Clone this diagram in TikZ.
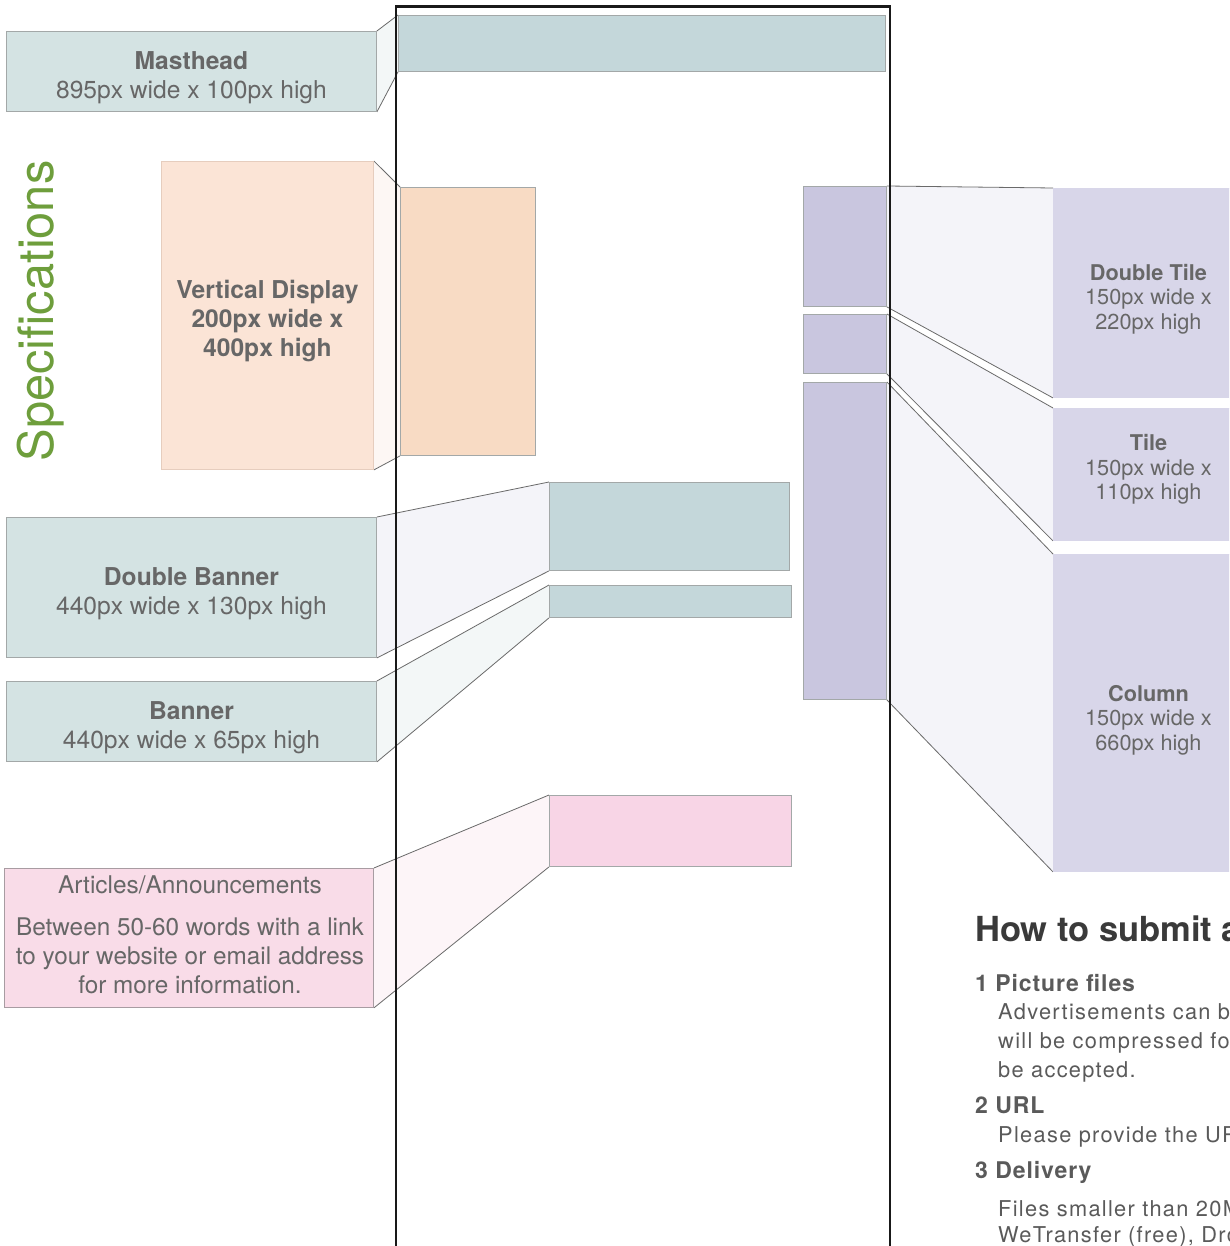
\documentclass[tikz,border=0pt]{standalone}
\usepackage{fontspec}
\setmainfont{TeX Gyre Heros}
\usetikzlibrary{backgrounds}
\definecolor{txt}{HTML}{676767}
\definecolor{boxline}{HTML}{A3A8A8}
\definecolor{cline}{HTML}{6A6A6A}
\definecolor{tealL}{HTML}{D4E3E3}
\definecolor{tealT}{HTML}{C4D7DA}
\definecolor{tealC}{HTML}{F3F7F7}
\definecolor{peachL}{HTML}{FBE4D6}
\definecolor{peachLine}{HTML}{E6CDBE}
\definecolor{peachT}{HTML}{F8DBC4}
\definecolor{peachC}{HTML}{FDF7F4}
\definecolor{lavL}{HTML}{D8D6E9}
\definecolor{lavT}{HTML}{C9C6DF}
\definecolor{lavC}{HTML}{F4F4F9}
\definecolor{pinkL}{HTML}{F9DCE8}
\definecolor{pinkLine}{HTML}{A89CA2}
\definecolor{pinkT}{HTML}{F8D5E6}
\definecolor{pinkC}{HTML}{FDF5F8}
\definecolor{specgreen}{HTML}{6E9E3C}
\definecolor{headtxt}{HTML}{3A3A3A}
\definecolor{itemtxt}{HTML}{5A5A5A}
\tikzset{
  boxbase/.style={draw=boxline, line width=0.9pt, inner sep=0pt, anchor=north west},
  labtext/.style={inner sep=0pt, align=center, text=txt, font=\fontsize{24.6}{29}\selectfont},
  rlabtext/.style={inner sep=0pt, align=center, text=txt, font=\fontsize{21.7}{24.5}\selectfont},
  connline/.style={draw=cline, line width=0.8pt},
  frameline/.style={draw=black!90, line width=2.7pt},
  heading/.style={anchor=base west, inner sep=0pt, text=headtxt, font=\fontsize{34.5}{40}\selectfont\bfseries},
  itemhead/.style={anchor=base west, inner sep=0pt, text=itemtxt, font=\fontsize{23}{29}\selectfont\bfseries\addfontfeatures{LetterSpace=4}},
  itemtext/.style={anchor=base west, inner sep=0pt, text=itemtxt, font=\fontsize{21.8}{29}\selectfont\addfontfeatures{LetterSpace=6}}
}
\begin{document}
\begin{tikzpicture}[x=1pt,y=-1pt]
\useasboundingbox (0,0) rectangle (1229,1246);
\clip (0,0) rectangle (1229,1246);

% ---------- left labels ----------
\node[boxbase, fill=tealL, minimum width=370pt, minimum height=80pt] (mhL) at (6,31) {};
\node[labtext] (mhLt) at ([yshift=-6pt]mhL.center) {\textbf{Masthead}\\895px wide x 100px high};
\node[boxbase, fill=peachL, draw=peachLine, minimum width=212pt, minimum height=308pt] (vdL) at (161,161) {};
\node[labtext] (vdLt) at ([yshift=-6pt]vdL.center) {\bfseries Vertical Display\\\bfseries 200px wide x\\\bfseries 400px high};
\node[boxbase, fill=tealL, minimum width=370pt, minimum height=140pt] (dbL) at (6,517) {};
\node[labtext] (dbLt) at ([yshift=-6pt]dbL.center) {\textbf{Double Banner}\\440px wide x 130px high};
\node[boxbase, fill=tealL, minimum width=370pt, minimum height=80pt] (bnL) at (6,681) {};
\node[labtext] (bnLt) at ([yshift=-6pt]bnL.center) {\textbf{Banner}\\440px wide x 65px high};
\node[boxbase, fill=pinkL, draw=pinkLine, minimum width=369pt, minimum height=139pt] (arL) at (4,868) {};
\node[anchor=base, inner sep=0pt, text=txt, font=\fontsize{24.4}{29}\selectfont] (arT1) at (190,893) {Articles/Announcements};
\node[anchor=north, inner sep=0pt, text=txt, align=center, font=\fontsize{24.3}{28.6}\selectfont] (arT2) at (190,918)
  {Between 50-60 words with a link\\to your website or email address\\for more information.};

% ---------- targets in the page ----------
\node[boxbase, fill=tealT, minimum width=487pt, minimum height=56pt] (mhT) at (398,15) {};
\node[boxbase, fill=peachT, minimum width=135pt, minimum height=268pt] (vdT) at (400,187) {};
\node[boxbase, fill=tealT, minimum width=240pt, minimum height=88pt] (dbT) at (549,482) {};
\node[boxbase, fill=tealT, minimum width=242pt, minimum height=32pt] (bnT) at (549,585) {};
\node[boxbase, fill=pinkT, minimum width=242pt, minimum height=71pt] (arT) at (549,795) {};
\node[boxbase, fill=lavT, minimum width=83pt, minimum height=120pt] (dtT) at (803,186) {};
\node[boxbase, fill=lavT, minimum width=83pt, minimum height=59pt] (tiT) at (803,314) {};
\node[boxbase, fill=lavT, minimum width=83pt, minimum height=317pt] (coT) at (803,382) {};

% ---------- right labels ----------
\node[boxbase, fill=lavL, draw=lavL, minimum width=190pt, minimum height=209pt] (dtL) at (1053,188) {};
\node[rlabtext] (dtLt) at ([yshift=-6pt]dtL.center) {\textbf{Double Tile}\\150px wide x\\220px high};
\node[boxbase, fill=lavL, draw=lavL, minimum width=190pt, minimum height=132pt] (tiL) at (1053,408) {};
\node[rlabtext] (tiLt) at ([yshift=5pt]tiL.center) {\textbf{Tile}\\150px wide x\\110px high};
\node[boxbase, fill=lavL, draw=lavL, minimum width=190pt, minimum height=317pt] (coL) at (1053,554) {};
\node[rlabtext] (coLt) at ([yshift=-7pt]coL.center) {\textbf{Column}\\150px wide x\\660px high};

% ---------- connectors ----------
\begin{pgfonlayer}{background}
\fill[white] (0,0) rectangle (1229,1246);
\fill[tealC] (mhL.north east) -- (mhT.north west) -- (mhT.south west) -- (mhL.south east) -- cycle;
\draw[connline] (mhL.north east) -- (mhT.north west);
\draw[connline] (mhL.south east) -- (mhT.south west);

\fill[peachC] (vdL.north east) -- (vdT.north west) -- (vdT.south west) -- (vdL.south east) -- cycle;
\draw[connline] (vdL.north east) -- (vdT.north west);
\draw[connline] (vdL.south east) -- (vdT.south west);

\fill[lavC] (dbL.north east) -- (dbT.north west) -- (dbT.south west) -- (dbL.south east) -- cycle;
\draw[connline] (dbL.north east) -- (dbT.north west);
\draw[connline] (dbL.south east) -- (dbT.south west);

\fill[tealC] (bnL.north east) -- (bnT.north west) -- (bnT.south west) -- (bnL.south east) -- cycle;
\draw[connline] (bnL.north east) -- (bnT.north west);
\draw[connline] (bnL.south east) -- (bnT.south west);

\fill[pinkC] (arL.north east) -- (arT.north west) -- (arT.south west) -- (arL.south east) -- cycle;
\draw[connline] (arL.north east) -- (arT.north west);
\draw[connline] (arL.south east) -- (arT.south west);

\fill[lavC] (dtT.north east) -- (dtL.north west) -- (dtL.south west) -- (dtT.south east) -- cycle;
\draw[connline] (dtT.north east) -- (dtL.north west);
\draw[connline] (dtT.south east) -- (dtL.south west);

\fill[lavC] (tiT.north east) -- (tiL.north west) -- (tiL.south west) -- (tiT.south east) -- cycle;
\draw[connline] (tiT.north east) -- (tiL.north west);
\draw[connline] (tiT.south east) -- (tiL.south west);

\fill[lavC] (coT.north east) -- (coL.north west) -- (coL.south west) -- (coT.south east) -- cycle;
\draw[connline] (coT.north east) -- (coL.north west);
\draw[connline] (coT.south east) -- (coL.south west);
\end{pgfonlayer}

% ---------- page frame ----------
\coordinate (fBL) at (396,1260);
\coordinate (fTL) at (396,6.5);
\coordinate (fTR) at (890,6.5);
\coordinate (fBR) at (890,1260);
\draw[frameline] (fBL) -- (fTL) -- (fTR) -- (fBR);

% ---------- Specifications ----------
\node[rotate=90, anchor=base, inner sep=0pt, text=specgreen, font=\fontsize{48.8}{52}\selectfont] (spec) at (53,311) {Specifications};

% ---------- How to submit ----------
\node[heading] (hd) at (975,941) {How to submit ads};
\node[itemhead] (i1) at (975,991) {1 Picture files};
\node[itemtext] (t1a) at (998,1019.5) {Advertisements can be};
\node[itemtext] (t1b) at (998,1048.5) {will be compressed for};
\node[itemtext] (t1c) at (998,1077.5) {be accepted.};
\node[itemhead] (i2) at (975,1113) {2 URL};
\node[itemtext] (t2a) at (998,1142) {Please provide the URL};
\node[itemhead] (i3) at (975,1178) {3 Delivery};
\node[itemtext] (t3a) at (998,1216) {Files smaller than 20MB};
\node[itemtext] (t3b) at (998,1242) {WeTransfer (free), Dropbox};
\end{tikzpicture}
\end{document}
